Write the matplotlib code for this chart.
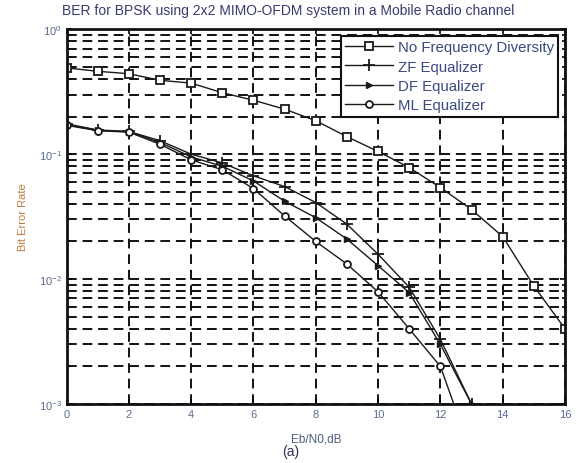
import matplotlib
matplotlib.use("Agg")
import matplotlib.pyplot as plt
from matplotlib.ticker import LogLocator, NullFormatter, FixedLocator

snr_db = [0, 1, 2, 3, 4, 5, 6, 7, 8, 9, 10, 11, 12, 13, 14, 15, 16]
ber_nofd = [0.49, 0.46, 0.44, 0.39, 0.37, 0.31, 0.27, 0.229, 0.185, 0.138,
            0.105, 0.078, 0.054, 0.036, 0.0219, 0.0088, 0.0040]
snr_eq = [0, 1, 2, 3, 4, 5, 6, 7, 8, 9, 10, 11, 12, 13]
ber_zf = [0.175, 0.156, 0.152, 0.128, 0.100, 0.085, 0.067, 0.055, 0.041,
          0.0275, 0.0158, 0.0086, 0.0033, 0.00100]
ber_df = [0.172, 0.155, 0.151, 0.124, 0.095, 0.080, 0.061, 0.042, 0.031,
          0.0209, 0.0128, 0.0078, 0.0030, 0.00100]
ber_ml = [0.170, 0.154, 0.150, 0.120, 0.090, 0.075, 0.053, 0.032, 0.020,
          0.0132, 0.0079, 0.0040, 0.0020, 0.00040]
labels = ["No Frequency Diversity", "ZF Equalizer", "DF Equalizer", "ML Equalizer"]
x_ticks = [0, 2, 4, 6, 8, 10, 12, 14, 16]

plt.rcParams['font.family'] = ['Liberation Sans', 'DejaVu Sans']

fig = plt.figure(figsize=(5.81, 4.64), dpi=100)
ax = fig.add_axes([0.1145, 0.127, 0.858, 0.808])

lc = '#1a1a1a'
ax.semilogy(snr_db, ber_nofd, color=lc, lw=1.0, marker='s', ms=6,
            mfc='white', mec=lc, mew=1.3, label=labels[0])
ax.semilogy(snr_eq, ber_zf, color=lc, lw=1.0, marker='+', ms=8,
            mew=1.3, label=labels[1])
ax.semilogy(snr_eq, ber_df, color=lc, lw=1.0, marker='>', ms=5,
            mfc=lc, mec=lc, label=labels[2])
ax.semilogy(snr_eq, ber_ml, color=lc, lw=1.0, marker='o', ms=5,
            mfc='white', mec=lc, mew=1.3, label=labels[3])

ax.set_xlim(0, 16)
ax.set_ylim(1e-3, 1)
ax.xaxis.set_major_locator(FixedLocator(x_ticks))
ax.yaxis.set_major_locator(LogLocator(base=10))
ax.yaxis.set_minor_locator(LogLocator(base=10, subs=range(2, 10)))
ax.yaxis.set_minor_formatter(NullFormatter())

gkw = dict(color='#111111', linestyle=(0, (5, 3)), linewidth=1.4)
ax.grid(True, which='major', axis='both', **gkw)
ax.grid(True, which='minor', axis='y', **gkw)
ax.set_axisbelow(True)

tick_col = '#5a6a90'
ax.tick_params(axis='both', which='both', direction='in', top=True, right=True,
               labelsize=8, labelcolor=tick_col, width=1.2)
for s in ax.spines.values():
    s.set_linewidth(2.0)
    s.set_color('#111111')

fig.text(0.496, 0.977,
         "BER for BPSK using 2x2 MIMO-OFDM system in a Mobile Radio channel",
         fontsize=10, color='#3a3a70', ha='center', va='center')
ax.set_ylabel("Bit Error Rate", fontsize=8, color='#c07a40', labelpad=8)
ax.set_xlabel("Eb/N0,dB", fontsize=8.5, color='#4a5a80', labelpad=10)
fig.text(0.5, 0.026, "(a)", fontsize=10, color='#303050', ha='center', va='center')

leg = ax.legend(loc='upper right', fontsize=10.8, frameon=True, fancybox=False,
                framealpha=1, edgecolor='#111111', borderpad=0.3,
                handlelength=3.2, handletextpad=0.3, labelspacing=0.35,
                borderaxespad=0.45)
leg.get_frame().set_linewidth(1.5)
for t in leg.get_texts():
    t.set_color('#3a4a80')

fig.savefig("out.png", dpi=100)
